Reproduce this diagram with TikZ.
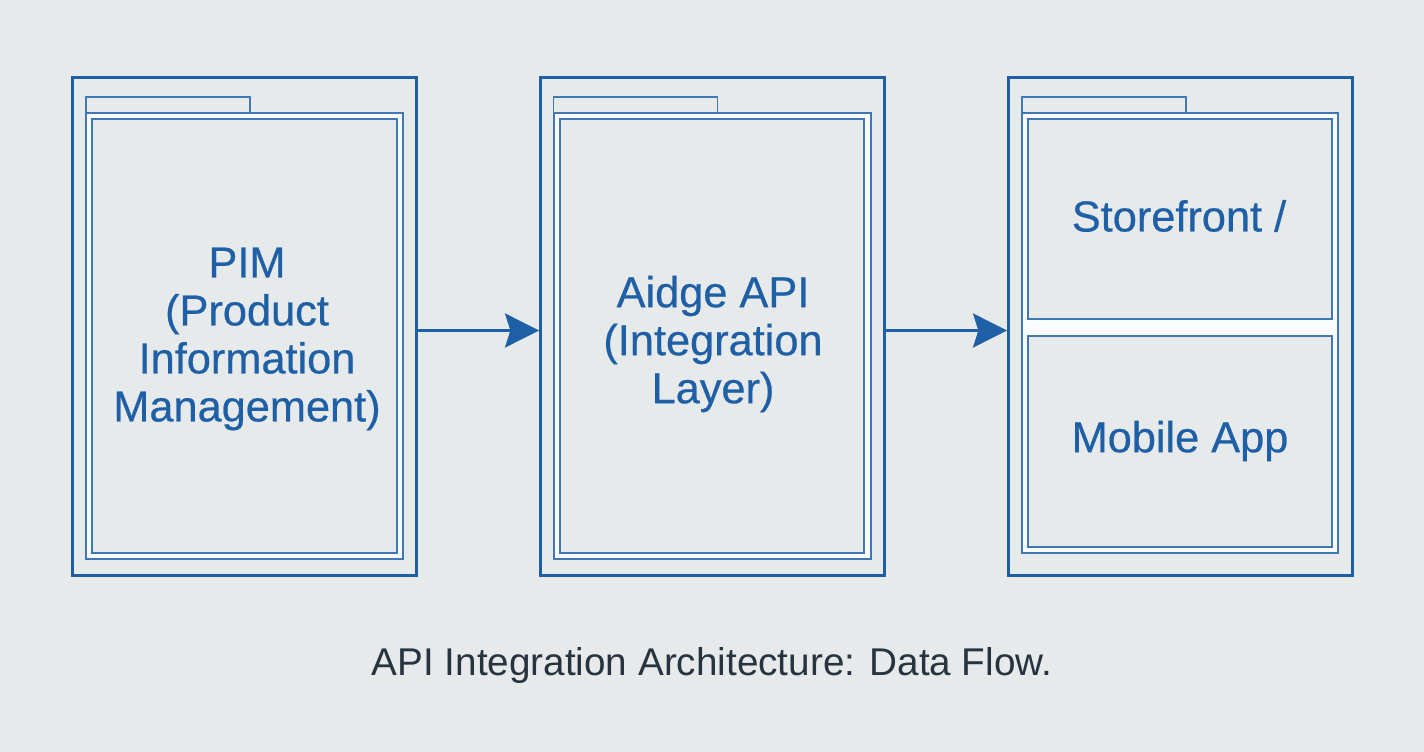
\documentclass[tikz,border=0pt]{standalone}
\usepackage{fontspec}
\setmainfont{Liberation Sans}
\newfontfamily\boxfont[FakeBold=0.5]{Liberation Sans}
\usepackage{xcolor}
\usetikzlibrary{arrows.meta}
\definecolor{pagebg}{HTML}{E6EAEB}
\definecolor{flowblue}{HTML}{1F5FA6}
\definecolor{gapwhite}{HTML}{F9FBFC}
\definecolor{captiongray}{HTML}{27333F}
\tikzset{
  x=0.75pt, y=-0.75pt,
  outerbox/.style={draw=flowblue, line width=2.2pt, fill=pagebg, minimum width=258pt, minimum height=373.5pt, inner sep=0pt},
  midbox/.style={draw=flowblue!85, line width=1pt, fill=gapwhite, inner sep=0pt},
  tabbox/.style={draw=flowblue!85, line width=1pt, fill=pagebg, minimum width=123pt, minimum height=12pt, inner sep=0pt},
  innerbox/.style={draw=flowblue!85, line width=1.2pt, fill=pagebg, inner sep=0pt},
  boxlabel/.style={text=flowblue, align=center, font=\boxfont\fontsize{32.5}{36}\selectfont},
  flow/.style={draw=flowblue, line width=2.2pt, -{Stealth[length=25.5pt, width=25.5pt, inset=4pt]}},
}
\begin{document}
\begin{tikzpicture}
  \useasboundingbox[fill=pagebg] (0,0) rectangle (1424,752);

  % PIM
  \node[outerbox] (pim) at (244.5,326.5) {};
  \node[tabbox] (pimtab) at (168,105) {};
  \node[midbox, minimum width=237.75pt, minimum height=334.5pt] (pimmid) at (244.5,336) {};
  \node[innerbox, minimum width=228.75pt, minimum height=325.5pt] (piminner) at (244.5,336) {};
  \node[boxlabel] (pimtext) at (247,339) {PIM\\(Product\\Information\\Management)};

  % Aidge
  \node[outerbox] (aidge) at (712.5,326.5) {};
  \node[tabbox] (aidgetab) at (635.5,105) {};
  \node[midbox, minimum width=237.75pt, minimum height=334.5pt] (aidgemid) at (712.5,336) {};
  \node[innerbox, minimum width=228pt, minimum height=325.5pt] (aidgeinner) at (712,336) {};
  \node[boxlabel] (aidgetext) at (713,344) {Aidge API\\(Integration\\Layer)};

  % Storefront
  \node[outerbox] (shop) at (1180.5,326.5) {};
  \node[tabbox] (shoptab) at (1104,105) {};
  \node[midbox, minimum width=237pt, minimum height=330pt] (shopmid) at (1180,333) {};
  \node[innerbox, minimum width=228pt, minimum height=150pt] (store) at (1180,219) {};
  \node[innerbox, minimum width=228pt, minimum height=158.25pt] (mobile) at (1180,441.5) {};
  \node[boxlabel] (storetext) at (1179,216) {Storefront /};
  \node[boxlabel] (mobiletext) at (1180,441) {Mobile App};

  % frecce
  \draw[flow] ([yshift=-3pt]pim.east) -- ([yshift=-3pt]aidge.west);
  \draw[flow] ([yshift=-3pt]aidge.east) -- ([yshift=-3pt]shop.west);

  \node[text=captiongray, font=\fontsize{29}{32}\selectfont] (caption) at (712,665) {API Integration Architecture: Data Flow.};
\end{tikzpicture}
\end{document}
